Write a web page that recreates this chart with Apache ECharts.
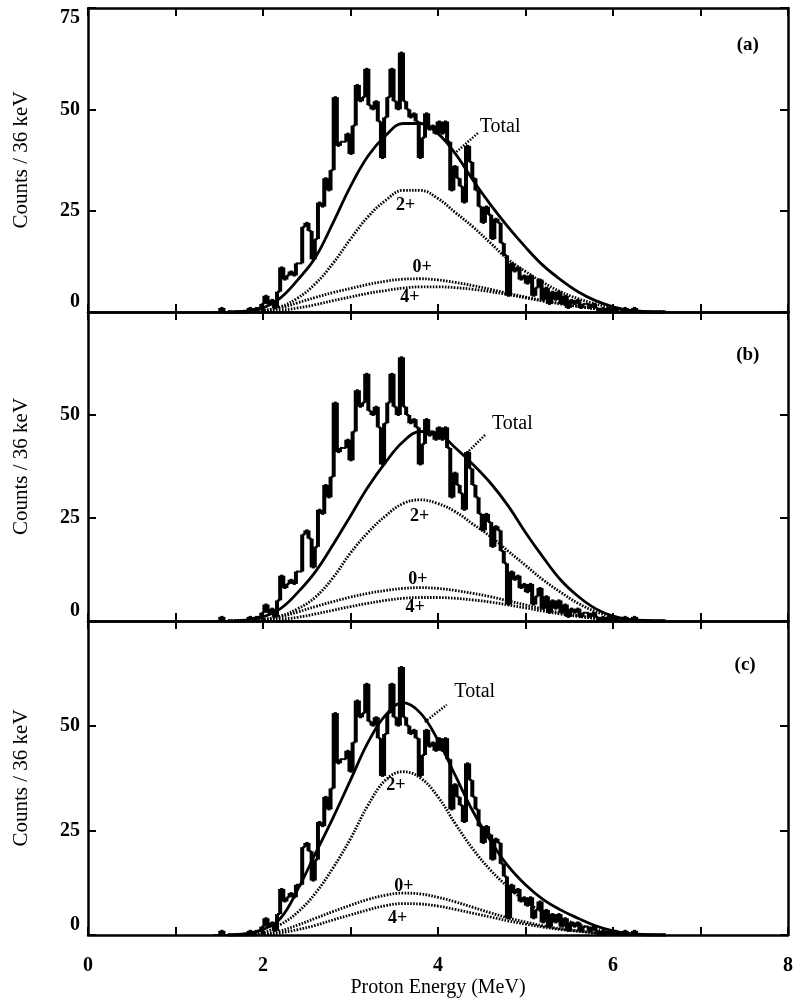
<!DOCTYPE html>
<html><head><meta charset="utf-8">
<script src="https://cdn.jsdelivr.net/npm/echarts@6/dist/echarts.min.js"></script>
<style>html,body{margin:0;padding:0;background:#fff}#c{width:797px;height:1005px}</style>
</head><body><div id="c"></div>
<script>
// ---- data ----
const BIN_WIDTH_MEV = 0.036;          // 36 keV bins
const FIRST_BIN_INDEX = 40;           // first bin starts at 40 * 36 keV = 1.44 MeV
const counts = [
 0,0,1,0,0,0,0,0,0,0, 0,1,0,1,1,2,4,2,3,1,
 5,11,8,9,10,9,12,12,21,22, 20,13,18,27,26,33,30,35,53,41,
 42,42,44,39,46,56,52,53,60,51, 50,52,47,38,48,53,60,52,50,64,
 52,50,48,49,47,38,43,49,45,46, 44,47,44,47,42,30,36,33,31,27,
 41,37,33,30,26,22,26,24,18,23, 22,17,14,4,12,10,11,8,9,7,
 9,4,6,8,3,6,2,5,3,5, 2,4,1,3,2,3,1,2,2,1,
 2,1,0,1,0,1,0,1,0,0, 1,0,0,1,0
];
const fitEnergies = [1.6,1.8,2.0,2.2,2.4,2.6,2.8,3.0,3.2,3.4,3.6,3.8,4.0,4.2,4.4,4.6,4.8,5.0,5.2,5.4,5.6,5.8,6.0,6.2,6.4,6.6];
const totalA = [0,0.2,1,3.5,8,13.5,22,31,38.5,43.5,46.5,46.5,44,39,32.5,26.5,21,16,11.5,8,5,2.8,1.3,0.4,0.1,0];
const twoA   = [0,0.1,0.4,1.3,3.5,7,12,18,23.5,27.5,30,30,28,24.5,21,17,13,10,7.3,5,3.3,2.0,1.0,0.4,0.1,0];
const zeroA  = [0,0,0.3,1,2.3,3.6,4.8,5.8,6.8,7.6,8.1,8.2,7.9,7.3,6.5,5.6,4.6,3.7,2.8,2.1,1.4,0.8,0.4,0.2,0,0];
const fourA  = [0,0,0.1,0.4,1.0,1.8,2.8,3.7,4.6,5.3,5.9,6.2,6.2,6.0,5.6,5.0,4.3,3.5,2.7,2.0,1.4,0.8,0.4,0.2,0,0];
const totalB = [0,0.2,1,3,7,12,18.5,25.5,32.5,38.5,43.5,46,45.5,42,38,33.5,28,21.5,15.5,10,6,3.0,1.2,0.4,0.1,0];
const twoB   = [0,0.1,0.4,1.2,3,5.8,10.5,16.5,21.5,25.5,28.5,29.4,28.5,26.5,23.5,20.5,17,13.5,10,7,4.3,2.3,1.0,0.3,0.1,0];
const zeroB  = [0,0,0.3,1,2.2,3.5,4.7,5.8,6.7,7.4,7.9,8.1,7.9,7.4,6.7,5.9,4.9,3.9,2.9,2.0,1.3,0.7,0.3,0.1,0,0];
const fourB  = [0,0,0.1,0.4,0.9,1.7,2.6,3.5,4.3,5.0,5.5,5.7,5.7,5.5,5.1,4.6,3.9,3.2,2.4,1.7,1.1,0.6,0.3,0.1,0,0];
const totalC = [0,0.3,1.3,4,11,19.5,28,37,46,52.5,55.5,53,46.5,38,29.5,22.5,16.5,12,8.5,6,4,2.2,1.0,0.3,0.1,0];
const twoC   = [0,0.1,0.6,2.5,5.5,10,16,23,31,37,39,37.5,33,26.5,20.5,15.5,11.5,8,5.5,4,2.5,1.4,0.7,0.2,0,0];
const zeroC  = [0,0,0.3,1,2.4,4,5.6,7.1,8.5,9.5,10,9.8,9,7.9,6.6,5.3,4.1,3.1,2.2,1.5,1,0.5,0.2,0.1,0,0];
const fourC  = [0,0,0.1,0.5,1.3,2.3,3.6,4.8,6,7,7.5,7.4,6.9,6.1,5.2,4.3,3.4,2.6,1.9,1.3,0.9,0.5,0.2,0.1,0,0];
const xTicks = [0,2,4,6,8];
const yTicks = [0,25,50,75];
const panelLetters = ['(a)','(b)','(c)'];
const fits = [
  {total: totalA, two: twoA, zero: zeroA, four: fourA},
  {total: totalB, two: twoB, zero: zeroB, four: fourB},
  {total: totalC, two: twoC, zero: zeroC, four: fourC}
];

// ---- layout / style ----
const FONT = 'Liberation Serif';
const grids = [
  {left: 88, right: 9, top: 8, height: 304},
  {left: 88, right: 9, top: 312, height: 309},
  {left: 88, right: 9, top: 621, height: 314}
];
// annotation anchors in data coordinates (energy, counts)
const annot = [
  {total:[4.71,45.6], lead:[[4.21,39.5],[4.46,44.2]], two:[3.63,26.4], zero:[3.82,10.9], four:[3.68,3.5], letter:[7.54,65.9]},
  {total:[4.85,47.8], lead:[[4.33,40.8],[4.55,45.4]], two:[3.79,25.5], zero:[3.77,10.0], four:[3.74,3.2], letter:[7.54,64.6]},
  {total:[4.42,58.0], lead:[[3.85,50.9],[4.10,55.0]], two:[3.52,35.8], zero:[3.61,11.7], four:[3.54,4.0], letter:[7.51,64.5]}
];

const histData = counts.map((c, i) => [(FIRST_BIN_INDEX + i) * BIN_WIDTH_MEV, c, i > 0 ? counts[i - 1] : 0]);
const pair = arr => fitEnergies.map((e, i) => [e, arr[i]]);

const xAxes = [], yAxes = [], series = [];
grids.forEach((g, p) => {
  const last = p === 2;
  xAxes.push({
    gridIndex: p, type: 'value', min: 0, max: 8, interval: 1, position: 'bottom',
    axisLine: {show: true, onZero: false, lineStyle: {color: '#000', width: 2.5}},
    axisTick: {show: true, inside: true, length: 8, lineStyle: {color: '#000', width: 2}},
    splitLine: {show: false},
    axisLabel: {show: last, margin: 21, color: '#000', fontFamily: FONT, fontWeight: 'bold', fontSize: 20,
      formatter: v => xTicks.includes(v) ? String(v) : '', showMinLabel: true, showMaxLabel: true},
    name: last ? 'Proton Energy (MeV)' : '', nameLocation: 'middle', nameGap: 43,
    nameTextStyle: {color: '#000', fontFamily: FONT, fontSize: 20}
  });
  xAxes.push({
    gridIndex: p, type: 'value', min: 0, max: 8, interval: 1, position: 'top',
    axisLine: {show: true, onZero: false, lineStyle: {color: '#000', width: 2.5}},
    axisTick: {show: true, inside: true, length: 8, lineStyle: {color: '#000', width: 2}},
    splitLine: {show: false}, axisLabel: {show: false}
  });
  yAxes.push({
    gridIndex: p, type: 'value', min: 0, max: 75, interval: 25, position: 'left',
    axisLine: {show: true, onZero: false, lineStyle: {color: '#000', width: 2.5}},
    axisTick: {show: true, inside: true, length: 8, lineStyle: {color: '#000', width: 2}},
    splitLine: {show: false},
    axisLabel: {show: true, margin: 8, color: '#000', fontFamily: FONT, fontWeight: 'bold', fontSize: 20,
      formatter: v => (v === 75 && p > 0) ? '' : (yTicks.includes(v) ? String(v) : ''),
      verticalAlignMinLabel: 'bottom', verticalAlignMaxLabel: 'top'},
    name: 'Counts / 36 keV', nameLocation: 'middle', nameGap: 56,
    nameTextStyle: {color: '#000', fontFamily: FONT, fontSize: 21}
  });
  yAxes.push({
    gridIndex: p, type: 'value', min: 0, max: 75, interval: 25, position: 'right',
    axisLine: {show: true, onZero: false, lineStyle: {color: '#000', width: 2.5}},
    axisTick: {show: true, inside: true, length: 8, lineStyle: {color: '#000', width: 2}},
    splitLine: {show: false}, axisLabel: {show: false}
  });
  const xi = p * 2, yi = p * 2;
  // histogram
  series.push({
    type: 'custom', xAxisIndex: xi, yAxisIndex: yi, data: histData, encode: {x: 0, y: 1}, z: 3, silent: true,
    renderItem: (params, api) => {
      const x0 = api.value(0), c = api.value(1), pv = api.value(2);
      const a = api.coord([x0, c]);
      const b = api.coord([x0 + BIN_WIDTH_MEV, c]);
      const q = api.coord([x0, pv]);
      return {type: 'group', children: [
        {type: 'line', shape: {x1: a[0], y1: a[1], x2: b[0], y2: b[1]}, style: {stroke: '#000', lineWidth: 2}},
        {type: 'line', shape: {x1: a[0], y1: q[1], x2: a[0], y2: a[1]}, style: {stroke: '#000', lineWidth: 4}}
      ]};
    }
  });
  const f = fits[p];
  const dotted = {color: '#000', width: 2.8, type: [1.6, 1.4]};
  series.push({type: 'line', xAxisIndex: xi, yAxisIndex: yi, data: pair(f.total), smooth: 0.4, symbol: 'none',
    lineStyle: {color: '#000', width: 2.8}, z: 4, silent: true});
  series.push({type: 'line', xAxisIndex: xi, yAxisIndex: yi, data: pair(f.two), smooth: 0.4, symbol: 'none',
    lineStyle: dotted, z: 4, silent: true});
  series.push({type: 'line', xAxisIndex: xi, yAxisIndex: yi, data: pair(f.zero), smooth: 0.4, symbol: 'none',
    lineStyle: dotted, z: 4, silent: true});
  series.push({type: 'line', xAxisIndex: xi, yAxisIndex: yi, data: pair(f.four), smooth: 0.4, symbol: 'none',
    lineStyle: dotted, z: 4, silent: true});
  const an = annot[p];
  // leader line for "Total"
  series.push({type: 'line', xAxisIndex: xi, yAxisIndex: yi, data: an.lead, symbol: 'none',
    lineStyle: {color: '#000', width: 2.5, type: [1.5, 1.5]}, z: 4, silent: true});
  const lab = (pos, text, size, bold) => ({value: pos, label: {show: true, position: 'inside', formatter: text,
    color: '#000', fontFamily: FONT, fontSize: size, fontWeight: bold ? 'bold' : 'normal', textBorderWidth: 0}});
  series.push({type: 'scatter', xAxisIndex: xi, yAxisIndex: yi, symbolSize: 0, z: 5, silent: true,
    itemStyle: {opacity: 1},
    data: [lab(an.total, 'Total', 20, false), lab(an.two, '2+', 18, true), lab(an.zero, '0+', 18, true),
           lab(an.four, '4+', 18, true), lab(an.letter, panelLetters[p], 19, true)]});
});

const chart = echarts.init(document.getElementById('c'), null, {renderer: 'canvas'});
chart.setOption({
  animation: false,
  backgroundColor: '#fff',
  grid: grids.map(g => Object.assign({containLabel: false}, g)),
  xAxis: xAxes,
  yAxis: yAxes,
  series: series
});
</script></body></html>
